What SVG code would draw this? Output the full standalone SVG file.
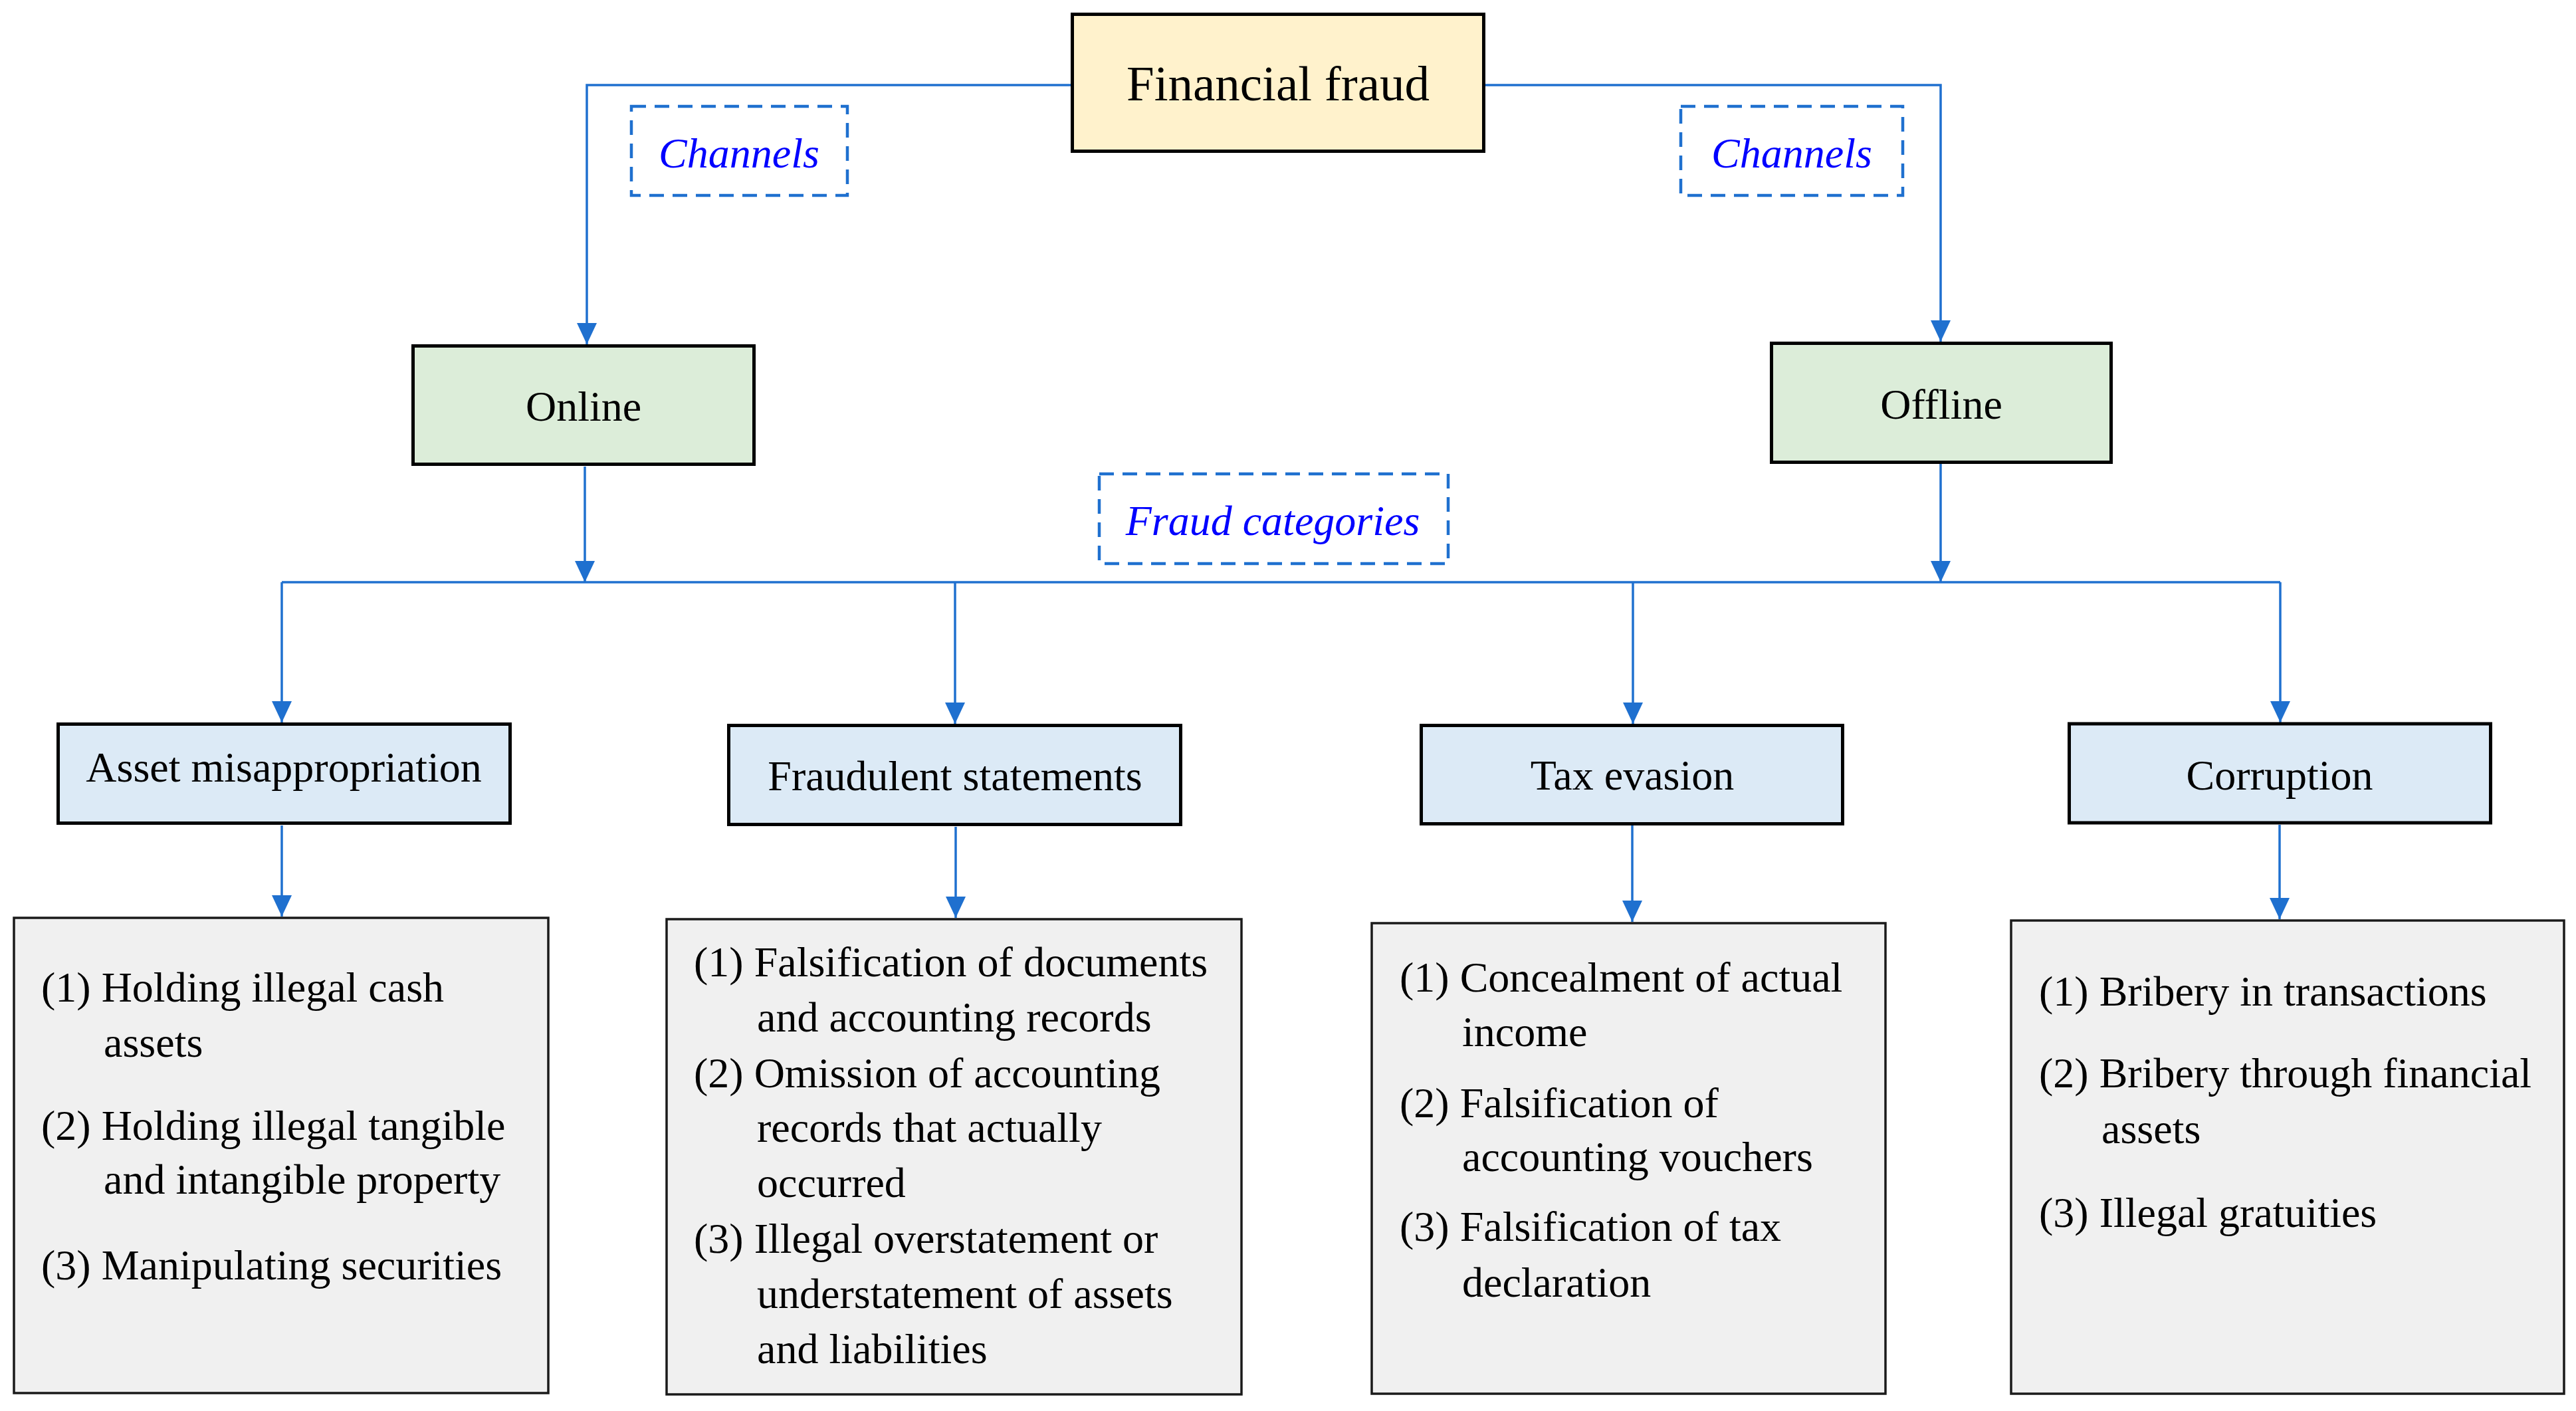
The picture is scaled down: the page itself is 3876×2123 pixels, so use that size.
<svg xmlns="http://www.w3.org/2000/svg" width="3876" height="2123" viewBox="0 0 3876 2123">
<style>
  .lbl { font-family: "Liberation Serif", "Times New Roman", serif; font-size: 64px; fill: #000; }
  .ctr { text-anchor: middle; }
  .big { font-size: 75px; }
  .tag { font-family: "Liberation Serif", "Times New Roman", serif; font-size: 64px; font-style: italic; fill: #0000FF; text-anchor: middle; }
  .conn { fill: none; stroke: #1F70CF; stroke-width: 3.5; }
  .dash { fill: none; stroke: #1F70CF; stroke-width: 4.5; stroke-dasharray: 22 13; }
  .box { stroke: #000; stroke-width: 5; }
  .list { fill: #F0F0F0; stroke: #1a1a1a; stroke-width: 3.5; }
</style>
<defs>
  <marker id="arr" viewBox="0 0 32 30" refX="32" refY="15" markerWidth="32" markerHeight="30" markerUnits="userSpaceOnUse" orient="auto">
    <path d="M0,0 L32,15 L0,30 z" fill="#1F70CF"/>
  </marker>
</defs>
<rect width="3876" height="2123" fill="#FFFFFF"/>

<g id="connectors">
  <path class="conn" d="M1611,128 H883 V518" marker-end="url(#arr)"/>
  <path class="conn" d="M2235,128 H2920 V514" marker-end="url(#arr)"/>
  <path class="conn" d="M880,702 V876" marker-end="url(#arr)"/>
  <path class="conn" d="M2920,698 V876" marker-end="url(#arr)"/>
  <path class="conn" d="M424,876 H3431"/>
  <path class="conn" d="M424,876 V1087" marker-end="url(#arr)"/>
  <path class="conn" d="M1437,876 V1089" marker-end="url(#arr)"/>
  <path class="conn" d="M2457,876 V1089" marker-end="url(#arr)"/>
  <path class="conn" d="M3431,876 V1087" marker-end="url(#arr)"/>
  <path class="conn" d="M424,1242 V1379" marker-end="url(#arr)"/>
  <path class="conn" d="M1438,1244 V1381" marker-end="url(#arr)"/>
  <path class="conn" d="M2456,1242 V1387" marker-end="url(#arr)"/>
  <path class="conn" d="M3430,1241 V1383" marker-end="url(#arr)"/>
</g>

<g id="label-channels-left">
  <rect class="dash" x="950" y="160" width="325" height="134"/>
  <text class="tag" x="1112" y="252">Channels</text>
</g>
<g id="label-channels-right">
  <rect class="dash" x="2529" y="160" width="334" height="134"/>
  <text class="tag" x="2696" y="252">Channels</text>
</g>
<g id="label-fraud-categories">
  <rect class="dash" x="1654" y="713" width="525" height="135"/>
  <text class="tag" x="1915" y="805">Fraud categories</text>
</g>

<g id="node-financial-fraud">
  <rect class="box" x="1613.5" y="21.5" width="619" height="206" fill="#FFF2CC"/>
  <text class="lbl big ctr" x="1923" y="151">Financial fraud</text>
</g>
<g id="node-online">
  <rect class="box" x="621.5" y="520.5" width="513" height="178" fill="#DCEDD9"/>
  <text class="lbl ctr" x="878" y="633">Online</text>
</g>
<g id="node-offline">
  <rect class="box" x="2665.5" y="516.5" width="511" height="179" fill="#DCEDD9"/>
  <text class="lbl ctr" x="2921" y="630">Offline</text>
</g>

<g id="node-asset-misappropriation">
  <rect class="box" x="87.5" y="1089.5" width="680" height="149" fill="#DCEAF6"/>
  <text class="lbl ctr" x="427" y="1176">Asset misappropriation</text>
</g>
<g id="node-fraudulent-statements">
  <rect class="box" x="1096.5" y="1091.5" width="680" height="149" fill="#DCEAF6"/>
  <text class="lbl ctr" x="1437" y="1189">Fraudulent statements</text>
</g>
<g id="node-tax-evasion">
  <rect class="box" x="2138.5" y="1091.5" width="634" height="148" fill="#DCEAF6"/>
  <text class="lbl ctr" x="2456" y="1188">Tax evasion</text>
</g>
<g id="node-corruption">
  <rect class="box" x="3113.5" y="1089" width="634" height="149" fill="#DCEAF6"/>
  <text class="lbl ctr" x="3430" y="1188">Corruption</text>
</g>

<g id="node-asset-details">
  <rect class="list" x="21" y="1381" width="804" height="715"/>
  <text class="lbl" x="62" y="1507">(1) Holding illegal cash</text>
  <text class="lbl" x="156" y="1590">assets</text>
  <text class="lbl" x="62" y="1715">(2) Holding illegal tangible</text>
  <text class="lbl" x="156" y="1796">and intangible property</text>
  <text class="lbl" x="62" y="1925">(3) Manipulating securities</text>
</g>
<g id="node-statement-details">
  <rect class="list" x="1003" y="1383" width="865" height="715"/>
  <text class="lbl" x="1044" y="1469">(1) Falsification of documents</text>
  <text class="lbl" x="1139" y="1552">and accounting records</text>
  <text class="lbl" x="1044" y="1636">(2) Omission of accounting</text>
  <text class="lbl" x="1139" y="1718">records that actually</text>
  <text class="lbl" x="1139" y="1801">occurred</text>
  <text class="lbl" x="1044" y="1885">(3) Illegal overstatement or</text>
  <text class="lbl" x="1139" y="1968">understatement of assets</text>
  <text class="lbl" x="1139" y="2051">and liabilities</text>
</g>
<g id="node-tax-details">
  <rect class="list" x="2064" y="1389" width="773" height="708"/>
  <text class="lbl" x="2106" y="1492">(1) Concealment of actual</text>
  <text class="lbl" x="2200" y="1574">income</text>
  <text class="lbl" x="2106" y="1681">(2) Falsification of</text>
  <text class="lbl" x="2200" y="1762">accounting vouchers</text>
  <text class="lbl" x="2106" y="1867">(3) Falsification of tax</text>
  <text class="lbl" x="2200" y="1951">declaration</text>
</g>
<g id="node-corruption-details">
  <rect class="list" x="3026" y="1385" width="832" height="712"/>
  <text class="lbl" x="3068" y="1513">(1) Bribery in transactions</text>
  <text class="lbl" x="3068" y="1636">(2) Bribery through financial</text>
  <text class="lbl" x="3162" y="1720">assets</text>
  <text class="lbl" x="3068" y="1846">(3) Illegal gratuities</text>
</g>
</svg>
